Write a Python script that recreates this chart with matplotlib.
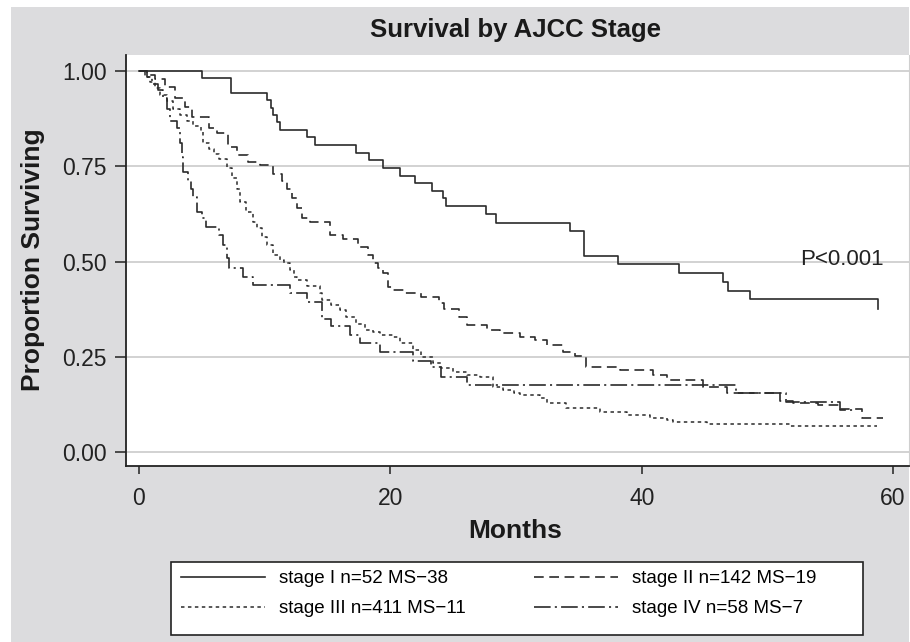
import matplotlib
matplotlib.use('Agg')
import matplotlib.pyplot as plt
from matplotlib.patches import Rectangle

plt.rcParams['font.family'] = ['Liberation Sans', 'DejaVu Sans']
plt.rcParams['lines.scale_dashes'] = False

# Kaplan-Meier steps (months, proportion surviving)
stage1_months = [0, 5.0, 7.3, 10.2, 10.5, 10.7, 11.0, 11.2, 13.4, 14.0, 17.3, 18.3, 19.4,
                 20.8, 22.0, 23.3, 24.2, 24.4, 27.6, 28.4, 34.3, 35.4, 38.1, 43.0, 46.5,
                 46.9, 48.6, 58.8]
stage1_surv = [1.0, 0.981, 0.942, 0.923, 0.904, 0.885, 0.865, 0.846, 0.827, 0.806, 0.785,
               0.766, 0.745, 0.724, 0.706, 0.685, 0.667, 0.646, 0.625, 0.601, 0.58, 0.514,
               0.493, 0.47, 0.446, 0.423, 0.402, 0.375]

stage2_months = [0, 0.6, 1.3, 2.1, 2.9, 3.7, 4.2, 5.6, 6.2, 7.1, 7.8, 8.7, 9.6, 10.7, 11.4,
                 11.8, 12.2, 12.6, 13.0, 13.6, 15.2, 16.2, 17.4, 18.2, 18.6, 19.0, 19.4,
                 19.8, 20.2, 21.2, 22.4, 23.9, 24.3, 25.5, 26.1, 27.7, 28.7, 30.3, 31.5,
                 32.5, 33.7, 34.7, 35.6, 38.3, 40.9, 42.0, 44.9, 46.8, 51.0, 52.0, 54.0,
                 55.8, 57.5, 59.2]
stage2_surv = [1.0, 0.99, 0.98, 0.958, 0.93, 0.905, 0.88, 0.85, 0.837, 0.80, 0.78, 0.76,
               0.753, 0.73, 0.71, 0.69, 0.667, 0.64, 0.614, 0.604, 0.57, 0.56, 0.538,
               0.517, 0.496, 0.483, 0.47, 0.433, 0.425, 0.417, 0.407, 0.39, 0.375, 0.354,
               0.333, 0.32, 0.312, 0.302, 0.294, 0.281, 0.262, 0.252, 0.223, 0.215, 0.202,
               0.189, 0.17, 0.155, 0.135, 0.129, 0.123, 0.113, 0.09, 0.09]

stage3_months = [0, 0.5, 0.9, 1.3, 1.7, 2.2, 2.7, 3.3, 3.8, 4.3, 4.9, 5.1, 5.6, 6.0, 6.4,
                 7.0, 7.4, 7.8, 8.0, 8.5, 9.1, 9.4, 9.8, 10.2, 10.7, 11.2, 11.5, 12.0, 12.3,
                 12.6, 13.4, 14.4, 14.6, 15.3, 16.0, 16.5, 17.3, 18.0, 18.6, 19.2, 20.2,
                 20.8, 21.8, 22.4, 23.4, 24.0, 25.0, 26.1, 27.1, 28.2, 29.0, 29.8, 30.3,
                 31.9, 32.5, 34.0, 36.7, 38.8, 40.7, 42.0, 42.5, 45.2, 51.8, 58.7]
stage3_surv = [1.0, 0.985, 0.97, 0.955, 0.937, 0.92, 0.9, 0.885, 0.87, 0.855, 0.84, 0.81,
               0.795, 0.783, 0.77, 0.745, 0.72, 0.69, 0.656, 0.63, 0.604, 0.588, 0.565,
               0.543, 0.517, 0.504, 0.496, 0.478, 0.46, 0.451, 0.435, 0.417, 0.4, 0.385,
               0.373, 0.354, 0.335, 0.32, 0.315, 0.308, 0.302, 0.286, 0.268, 0.25, 0.234,
               0.22, 0.21, 0.202, 0.197, 0.17, 0.163, 0.155, 0.15, 0.142, 0.129, 0.115,
               0.105, 0.097, 0.09, 0.084, 0.079, 0.073, 0.068, 0.068]

stage4_months = [0, 0.6, 1.0, 1.5, 1.9, 2.2, 2.5, 3.0, 3.3, 3.4, 3.5, 3.9, 4.1, 4.3, 4.6,
                 5.0, 5.3, 6.4, 6.7, 7.0, 7.2, 8.3, 9.1, 12.0, 13.4, 14.6, 15.3, 16.8,
                 17.6, 19.2, 21.8, 23.2, 24.0, 26.1, 47.5, 51.5, 55.8, 57.0]
stage4_surv = [1.0, 0.983, 0.966, 0.95, 0.93, 0.9, 0.87, 0.85, 0.81, 0.775, 0.735, 0.71,
               0.69, 0.67, 0.63, 0.614, 0.59, 0.57, 0.543, 0.51, 0.483, 0.46, 0.438, 0.417,
               0.394, 0.35, 0.33, 0.307, 0.286, 0.262, 0.24, 0.223, 0.197, 0.176, 0.155,
               0.13, 0.11, 0.11]

labels = ['stage I n=52 MS\u221238', 'stage II n=142 MS\u221219',
          'stage III n=411 MS\u221211', 'stage IV n=58 MS\u22127']

W, H = 910, 642
fig = plt.figure(figsize=(W / 100, H / 100), dpi=100)
fig.patch.set_facecolor('white')
# grey panel behind everything
fig.patches.append(Rectangle((11 / W, 0), (909 - 11) / W, (H - 7) / H,
                             transform=fig.transFigure, facecolor='#dcdcde',
                             edgecolor='none', zorder=-10))

ax = fig.add_axes([126 / W, (H - 466) / H, (909 - 126) / W, (466 - 55) / H])
ax.set_facecolor('white')

lc = '#2b2b2b'
l1, = ax.step(stage1_months, stage1_surv, where='post', color=lc, lw=1.2, ls='-',
              label=labels[0])
l2, = ax.step(stage2_months, stage2_surv, where='post', color=lc, lw=1.2,
              ls=(0, (7, 4)), label=labels[1])
l3, = ax.step(stage3_months, stage3_surv, where='post', color=lc, lw=1.1,
              ls=(0, (2.5, 2.5)), label=labels[2])
l4, = ax.step(stage4_months, stage4_surv, where='post', color=lc, lw=1.2,
              ls=(0, (12, 3, 1.5, 3)), label=labels[3])

ax.set_xlim(-1.034, 61.27)
ax.set_ylim(-0.0367, 1.042)
ax.set_xticks([0, 20, 40, 60])
ax.set_yticks([0, 0.25, 0.5, 0.75, 1.0])
ax.set_yticklabels(['0.00', '0.25', '0.50', '0.75', '1.00'])
ax.yaxis.grid(True, color='#d2d2d2', lw=1.4)
ax.set_axisbelow(True)

ax.spines['top'].set_visible(False)
ax.spines['right'].set_color('#cfcfcf')
ax.spines['left'].set_color('#222222')
ax.spines['bottom'].set_color('#222222')
ax.spines['left'].set_linewidth(1.3)
ax.spines['bottom'].set_linewidth(1.3)

ax.tick_params(axis='y', length=8, width=1.1, pad=6, labelsize=16.5,
               colors='#222222')
ax.tick_params(axis='x', length=6, width=1.1, pad=9, labelsize=16.5,
               colors='#222222')

ax.text(52.6, 0.504, 'P<0.001', fontsize=16, color='#222222', va='center', ha='left')

fig.text(516 / W, 1 - 30 / H, 'Survival by AJCC Stage', ha='center', va='center',
         fontsize=18.5, fontweight='bold', color='#1a1a1a')
fig.text(33 / W, 1 - 260 / H, 'Proportion Surviving', ha='center', va='center',
         rotation=90, fontsize=19, fontweight='bold', color='#1a1a1a')
fig.text(515 / W, 1 - 531 / H, 'Months', ha='center', va='center',
         fontsize=19, fontweight='bold', color='#1a1a1a')

# legend box
fig.patches.append(Rectangle((171 / W, 1 - 635 / H), 692 / W, 73 / H,
                             transform=fig.transFigure, facecolor='white',
                             edgecolor='#222222', lw=1.2, zorder=-5))
# row-major order: I, II on the first row, III, IV on the second
ax.legend([l1, l3, l2, l4], [labels[0], labels[2], labels[1], labels[3]],
          loc='upper left', bbox_to_anchor=(181 / W, 1 - 570 / H),
          bbox_transform=fig.transFigure, ncol=2, frameon=False,
          handlelength=4.5, handletextpad=0.75, columnspacing=3.6,
          borderpad=0, borderaxespad=0, labelspacing=0.7, fontsize=13.5)

fig.savefig('out.png', dpi=100)
